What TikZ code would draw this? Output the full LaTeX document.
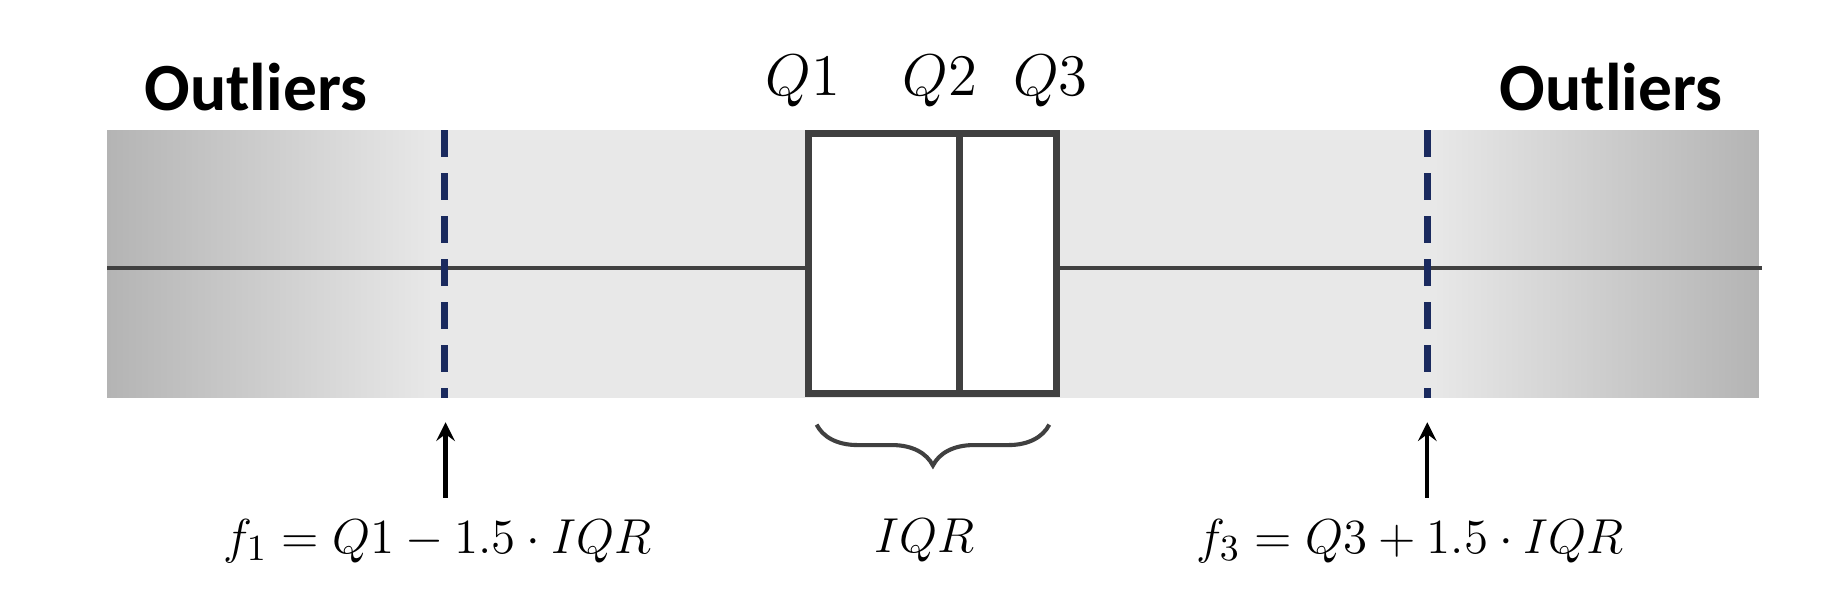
\documentclass[tikz,border=0pt]{standalone}
\usepackage{fontspec}
\newfontfamily\carlitofont{Carlito}
\usetikzlibrary{decorations.pathreplacing}
\definecolor{band}{HTML}{E8E8E8}
\definecolor{bandd}{HTML}{B4B4B4}
\definecolor{ln}{HTML}{404040}
\definecolor{dblue}{HTML}{1A2A5E}
\begin{document}
\begin{tikzpicture}[x=0.01cm,y=-0.01cm,
  lbl/.style={font=\carlitofont\bfseries\fontsize{16.5}{18}\selectfont},
  mth/.style={font=\fontsize{13}{15}\selectfont},
  fen/.style={dblue,line width=1.8pt,dash pattern=on 6.5pt off 4pt}]
\useasboundingbox (0,0) rectangle (1568,520);
\fill[band] (92,112) rectangle (1512,342);
\shade[left color=bandd,right color=band] (92,112) rectangle (372,342);
\shade[left color=band,right color=bandd] (1232,112) rectangle (1512,342);
\coordinate (wl) at (92,230); \coordinate (wr) at (1515,230);
\draw[ln,line width=1pt] (wl) -- (wr);
\draw[fen] (382,112) -- (382,342);
\draw[fen] (1227,112) -- (1227,342);
\draw[ln,line width=1.7pt,fill=white] (695,115) rectangle (908,338);
\draw[ln,line width=1.7pt] (825,115) -- (825,338);
\draw[ln,line width=1pt,decorate,decoration={brace,amplitude=10pt,mirror}] (702,365) -- (902,365);
\coordinate (a1s) at (383,428); \coordinate (a1e) at (383,363);
\coordinate (a3s) at (1227,428); \coordinate (a3e) at (1227,363);
\draw[->,line width=1pt,>=stealth] (a1s) -- (a1e);
\draw[->,line width=1pt,>=stealth] (a3s) -- (a3e);
\node[lbl] (o1) at (220,75) {Outliers};
\node[lbl] (o2) at (1385,75) {Outliers};
\node[mth,font=\fontsize{14.5}{16}\selectfont] (q1) at (690,70) {$Q1$};
\node[mth,font=\fontsize{14.5}{16}\selectfont] (q2) at (808,70) {$Q2$};
\node[mth,font=\fontsize{14.5}{16}\selectfont] (q3) at (903,70) {$Q3$};
\node[mth] (f1) at (376,465) {$f_1 = Q1 - 1.5\cdot IQR$};
\node[mth] (iqr) at (795,465) {$IQR$};
\node[mth] (f3) at (1212,465) {$f_3 = Q3 + 1.5\cdot IQR$};
\end{tikzpicture}
\end{document}
